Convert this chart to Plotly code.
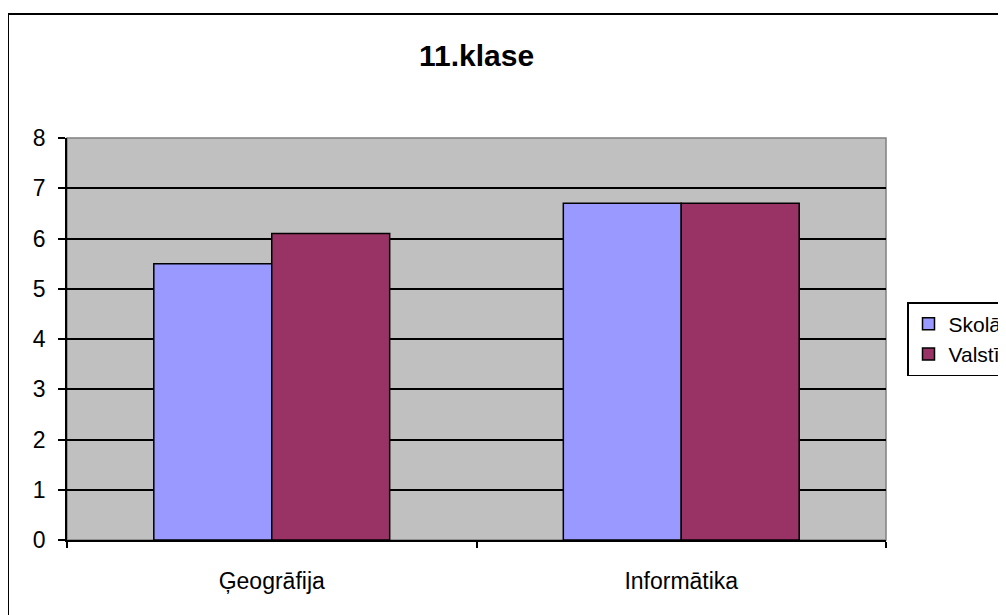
import plotly.graph_objects as go

# chart data
categories = ['Ģeogrāfija', 'Informātika']
skola = [5.5, 6.7]
valsti = [6.1, 6.7]
series_names = ['Skolā', 'Valstī']
bar_colors = ['#9999FF', '#993366']
y_ticks = [0, 1, 2, 3, 4, 5, 6, 7, 8]

FONT = 'Arial, Liberation Sans, sans-serif'

# the page body has an 8px margin, so the figure is laid out 8px smaller
W, H = 998, 607
L, T, R, B = 59, 130, 120, 75
PW, PH = W - L - R, H - T - B

fig = go.Figure()
for name, vals, color in zip(series_names, [skola, valsti], bar_colors):
    fig.add_trace(go.Bar(
        name=name,
        x=categories,
        y=vals,
        marker=dict(color=color, line=dict(color='black', width=1.5)),
    ))

fig.update_layout(
    width=W,
    height=H,
    barmode='group',
    bargap=0.424,
    bargroupgap=0,
    paper_bgcolor='white',
    plot_bgcolor='#C0C0C0',
    margin=dict(l=L, r=R, t=T, b=B, autoexpand=False),
    font=dict(family=FONT, size=23, color='black'),
    title=dict(
        text='<b>11.klase</b>',
        x=0.5, xref='paper', xanchor='center',
        y=1 - 47 / H, yanchor='middle',
        font=dict(family=FONT, size=30, color='black'),
    ),
    legend=dict(
        x=(899 - L) / PW, xanchor='left',
        y=0.5, yanchor='middle',
        bgcolor='white',
        bordercolor='black', borderwidth=1.5,
        font=dict(family=FONT, size=21),
        itemwidth=30,
        tracegroupgap=0,
    ),
    showlegend=True,
    xaxis=dict(
        showline=True, linecolor='black', linewidth=1.5,
        ticks='outside', ticklen=6, tickcolor='black', tickwidth=1.5,
        tickson='boundaries',
        ticklabelstandoff=20,
        showgrid=False,
    ),
    yaxis=dict(
        range=[0, 8],
        tickvals=y_ticks,
        showline=True, linecolor='black', linewidth=1.5,
        ticks='outside', ticklen=7, tickcolor='black', tickwidth=1.5,
        ticklabelstandoff=8,
        showgrid=True, gridcolor='black', gridwidth=1.5,
        zeroline=False,
    ),
    shapes=[
        # plot area frame (gray top/right)
        dict(type='rect', xref='paper', yref='paper', x0=0, x1=1, y0=0, y1=1,
             line=dict(color='#808080', width=1.5), layer='below'),
        # outer chart border, cut off at right and bottom
        dict(type='rect', xref='paper', yref='paper',
             x0=(0 - L) / PW, x1=1.3, y0=-0.3, y1=(PH + T - 6) / PH,
             line=dict(color='black', width=2)),
    ],
)

fig.write_html('out.html')
